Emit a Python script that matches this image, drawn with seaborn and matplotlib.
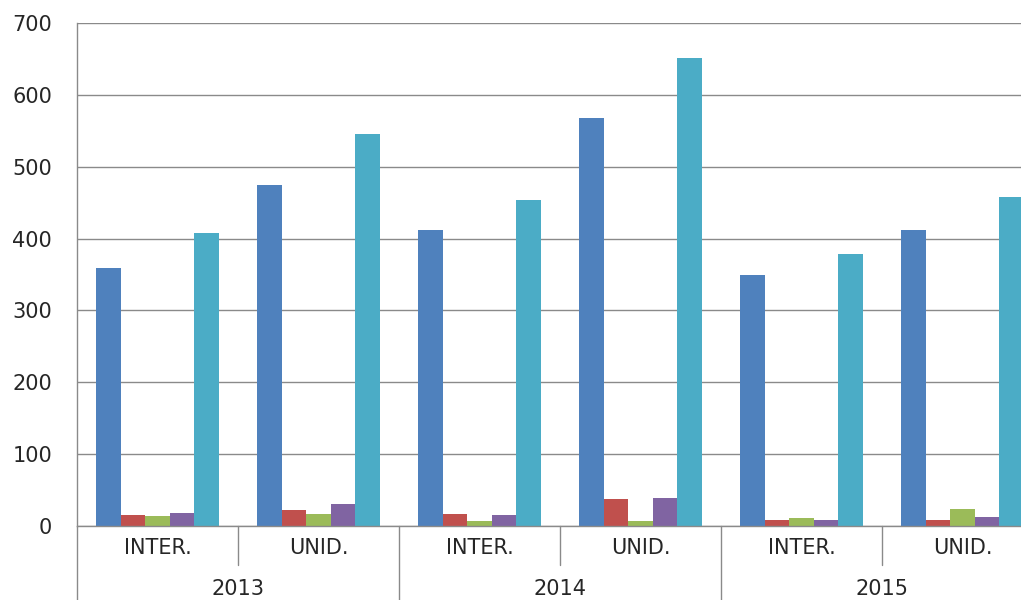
import matplotlib
matplotlib.use("Agg")
import matplotlib.pyplot as plt
import matplotlib.transforms as mtransforms
import seaborn as sns
import pandas as pd

years = ["2013", "2014", "2015"]
subcats = ["INTER.", "UNID."]
series = ["S1", "S2", "S3", "S4", "S5"]
colors = ["#4F81BD", "#C0504D", "#9BBB59", "#8064A2", "#4BACC6"]

# values per (year, subcat) in order 2013 INTER, 2013 UNID, 2014 INTER, 2014 UNID, 2015 INTER, 2015 UNID
s1 = [359, 475, 412, 568, 349, 412]
s2 = [15, 22, 17, 37, 8, 8]
s3 = [14, 17, 7, 7, 11, 24]
s4 = [18, 30, 15, 39, 8, 13]
s5 = [408, 545, 454, 651, 379, 458]
yticks = [0, 100, 200, 300, 400, 500, 600, 700]

cats = [f"{y}|{s}" for y in years for s in subcats]
rows = []
for name, vals in zip(series, [s1, s2, s3, s4, s5]):
    for c, v in zip(cats, vals):
        rows.append({"cat": c, "series": name, "value": v})
df = pd.DataFrame(rows)

sns.set_theme(style="white")
plt.rcParams["font.family"] = ["DejaVu Sans"]

fig = plt.figure(figsize=(10.21, 6.0), dpi=100)
ax = fig.add_axes([77 / 1021, 74 / 600, 966 / 1021, 503 / 600])

sns.barplot(data=df, x="cat", y="value", hue="series", order=cats, hue_order=series,
            palette=colors, saturation=1, width=0.765, legend=False, ax=ax,
            edgecolor="none", linewidth=0, errorbar=None)

grid_c = "#8a8a8a"
ax.set_ylim(0, 700)
ax.set_xlim(-0.5, len(cats) - 0.5)
ax.set_yticks(yticks)
ax.set_yticklabels([str(t) for t in yticks], fontsize=15, color="#262626")
ax.tick_params(axis="y", length=0, pad=18)
ax.set_xticks([])
ax.set_xlabel("")
ax.set_ylabel("")
ax.yaxis.grid(True, color=grid_c, lw=1)
ax.set_axisbelow(True)
for sp in ["top", "right"]:
    ax.spines[sp].set_visible(False)
ax.spines["left"].set_color(grid_c)
ax.spines["bottom"].set_color(grid_c)
ax.spines["left"].set_linewidth(1)
ax.spines["bottom"].set_linewidth(1)

trans = mtransforms.blended_transform_factory(ax.transData, ax.transAxes)
ax_h_px = 503.0
sub_sep = -39 / ax_h_px
bottom = -80 / ax_h_px

# separators between sub categories
for i in range(len(years)):
    xs = 2 * i + 0.5
    ax.plot([xs, xs], [0, sub_sep], transform=trans, color=grid_c, lw=1, clip_on=False)
# separators between years
for i in range(len(years) + 1):
    xs = 2 * i - 0.5
    ax.plot([xs, xs], [0, bottom], transform=trans, color=grid_c, lw=1, clip_on=False)

# labels
for i, c in enumerate(cats):
    y, s = c.split("|")
    ax.text(i, -22 / ax_h_px, s, transform=trans, ha="center", va="center",
            fontsize=15, color="#262626", clip_on=False)
for i, y in enumerate(years):
    ax.text(2 * i + 0.5, -63 / ax_h_px, y, transform=trans, ha="center", va="center",
            fontsize=15, color="#262626", clip_on=False)

fig.savefig("out.png", dpi=100)
